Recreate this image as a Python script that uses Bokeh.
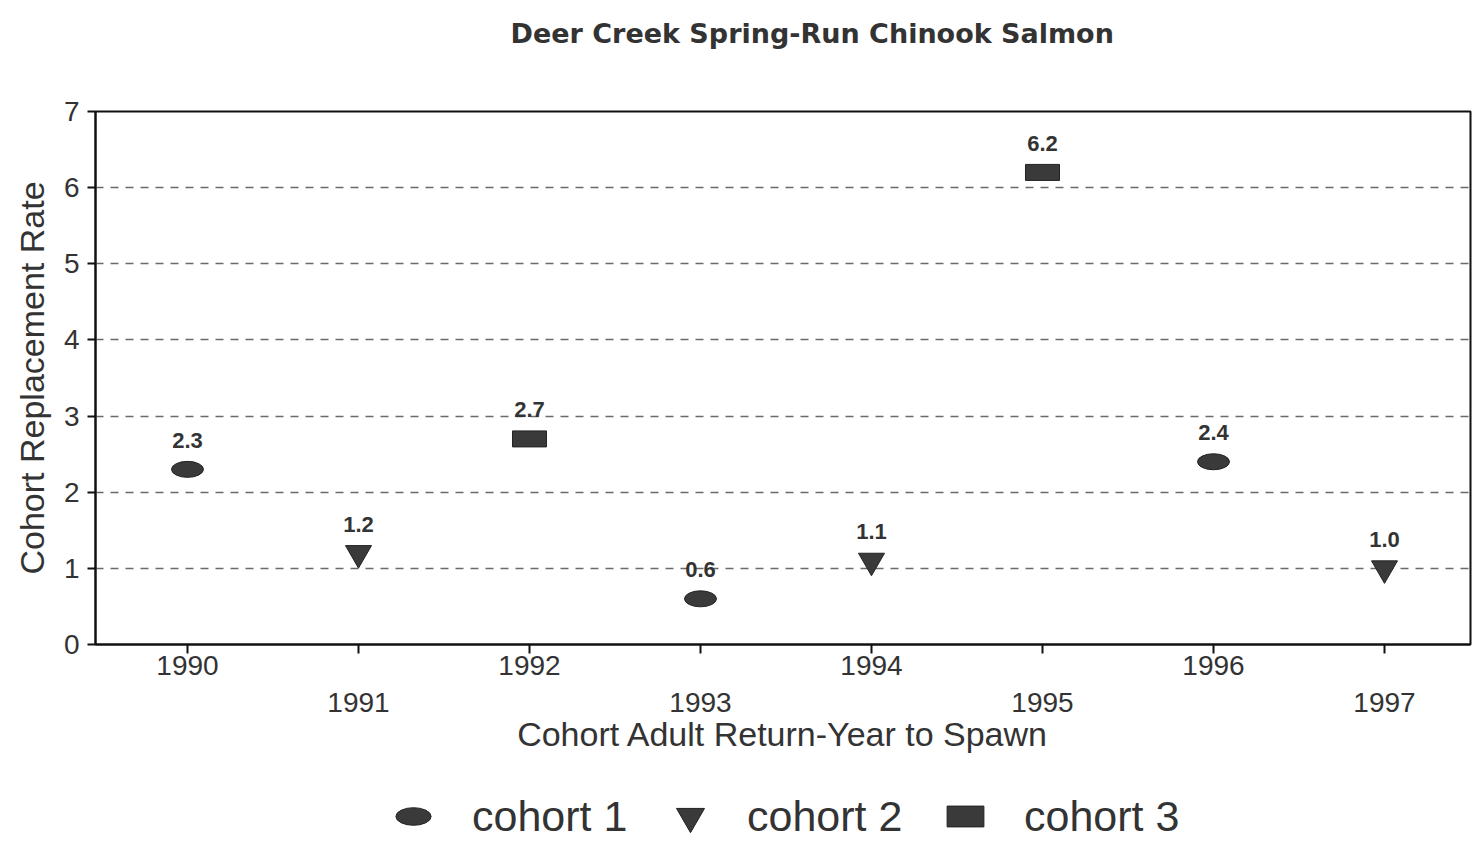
from bokeh.plotting import figure
from bokeh.layouts import column
from bokeh.models import (ColumnDataSource, FixedTicker, LinearAxis, Legend, LegendItem,
                          Range1d, Title, Grid)
from bokeh.core.properties import value
from bokeh.embed import file_html
from bokeh.resources import INLINE

# ---- data ----
years = [1990, 1991, 1992, 1993, 1994, 1995, 1996, 1997]
rates = [2.3, 1.2, 2.7, 0.6, 1.1, 6.2, 2.4, 1.0]
cohorts = ["cohort 1", "cohort 2", "cohort 3", "cohort 1", "cohort 2", "cohort 3", "cohort 1", "cohort 2"]
cohort_names = ["cohort 1", "cohort 2", "cohort 3"]
y_ticks = [0, 1, 2, 3, 4, 5, 6, 7]
even_years = [1990, 1992, 1994, 1996]
odd_years = [1991, 1993, 1995, 1997]

FONT = "Liberation Sans"
INK = "#3a3a3a"
TXT = "#333333"

p = figure(frame_width=1375, frame_height=533, output_backend="svg", toolbar_location=None,
           x_range=Range1d(1989.462, 1997.503), y_range=Range1d(0, 7),
           x_axis_type=None, y_axis_type=None,
           min_border_left=95, min_border_right=2, min_border_top=110, min_border_bottom=118)
p.background_fill_color = "white"
p.border_fill_color = "white"
p.outline_line_color = "#111111"
p.outline_line_width = 2

# spacer title (nearest the frame) pushes the real title up
p.add_layout(Title(text=" ", text_font_size="2px", standoff=44), "above")
p.add_layout(Title(text="Deer Creek Spring-Run Chinook Salmon", align="left",
                   text_font="DejaVu Sans", text_font_size="27px", text_font_style="bold",
                   text_color=TXT, standoff=30, offset=415), "above")

# y axis
yaxis = LinearAxis(ticker=FixedTicker(ticks=y_ticks), axis_label="Cohort Replacement Rate")
yaxis.axis_line_color = "#111111"
yaxis.axis_line_width = 2
yaxis.major_tick_line_color = "#111111"
yaxis.major_tick_line_width = 2
yaxis.major_tick_out = 8
yaxis.major_tick_in = 0
yaxis.minor_tick_line_color = None
yaxis.major_label_text_font = FONT
yaxis.major_label_text_font_size = "28px"
yaxis.major_label_text_color = TXT
yaxis.major_label_standoff = 8
yaxis.axis_label_text_font = FONT
yaxis.axis_label_text_font_size = "34px"
yaxis.axis_label_text_font_style = "normal"
yaxis.axis_label_text_color = TXT
yaxis.axis_label_standoff = 10
p.add_layout(yaxis, "left")

# x axis: even-year labels
xaxis1 = LinearAxis(ticker=FixedTicker(ticks=years))
xaxis1.major_label_overrides = {y: (str(y) if y in even_years else " ") for y in years}
xaxis1.axis_line_color = "#111111"
xaxis1.axis_line_width = 2
xaxis1.major_tick_line_color = "#111111"
xaxis1.major_tick_line_width = 2
xaxis1.major_tick_out = 9
xaxis1.major_tick_in = 0
xaxis1.minor_tick_line_color = None
xaxis1.major_label_text_font = FONT
xaxis1.major_label_text_font_size = "28px"
xaxis1.major_label_text_color = TXT
xaxis1.major_label_standoff = -4
p.add_layout(xaxis1, "below")

# x axis: odd-year labels (second row)
xaxis2 = LinearAxis(ticker=FixedTicker(ticks=odd_years),
                    axis_label="Cohort Adult Return-Year to Spawn")
xaxis2.axis_line_color = None
xaxis2.major_tick_line_color = None
xaxis2.minor_tick_line_color = None
xaxis2.major_label_text_font = FONT
xaxis2.major_label_text_font_size = "28px"
xaxis2.major_label_text_color = TXT
xaxis2.major_label_standoff = 3
xaxis2.axis_label_text_font = FONT
xaxis2.axis_label_text_font_size = "34px"
xaxis2.axis_label_text_font_style = "normal"
xaxis2.axis_label_text_color = TXT
xaxis2.axis_label_standoff = 0
p.add_layout(xaxis2, "below")

# dashed horizontal grid
grid = Grid(dimension=1, ticker=FixedTicker(ticks=y_ticks[1:-1]),
            grid_line_color="#6a6a6a", grid_line_dash="8 7", grid_line_width=1.4)
p.add_layout(grid)


def subset(name):
    xs = [x for x, c in zip(years, cohorts) if c == name]
    ys = [v for v, c in zip(rates, cohorts) if c == name]
    return ColumnDataSource(dict(x=xs, y=ys))


def draw_markers(fig):
    a = fig.ellipse(x="x", y="y", width=32, height=16, width_units="screen", height_units="screen",
                    source=subset(cohort_names[0]), fill_color=INK, line_color="#222222", line_width=1)
    b = fig.scatter(x="x", y="y", marker="inverted_triangle", size=26,
                    source=subset(cohort_names[1]), fill_color=INK, line_color="#222222", line_width=1)
    c = fig.rect(x="x", y="y", width=34, height=16, width_units="screen", height_units="screen",
                 source=subset(cohort_names[2]), fill_color=INK, line_color="#222222", line_width=1)
    return a, b, c


draw_markers(p)

labels = ColumnDataSource(dict(x=years, y=rates, t=["%.1f" % v for v in rates]))
p.text(x="x", y="y", text="t", source=labels, y_offset=-29,
       text_align="center", text_baseline="middle",
       text_font=value(FONT), text_font_size="22px", text_font_style="bold", text_color=TXT)

# ---- legend strip below the chart ----
q = figure(width=1472, height=80, output_backend="svg", toolbar_location=None,
           x_range=Range1d(0, 1), y_range=Range1d(0, 1),
           x_axis_type=None, y_axis_type=None, min_border=0)
q.outline_line_color = None
q.background_fill_color = "white"
q.border_fill_color = "white"
q.xgrid.grid_line_color = None
q.ygrid.grid_line_color = None
l1, l2, l3 = draw_markers(q)  # data lies outside this strip's ranges; used as legend keys

legend_specs = [
    (l1, cohort_names[0], 296, 44, 44, 37),
    (l2, cohort_names[1], 560, 70, 70, 22),
    (l3, cohort_names[2], 847, 46, 26, 36),
]
for rend, name, lx, gw, gh, stand in legend_specs:
    lg = Legend(items=[LegendItem(label=name, renderers=[rend])],
                location=(lx, -9), orientation="horizontal",
                label_text_font=FONT, label_text_font_size="43px",
                label_text_color=TXT, label_height=70,
                label_standoff=stand, glyph_width=gw, glyph_height=gh,
                border_line_color=None, background_fill_alpha=0, margin=0, padding=0)
    q.add_layout(lg, "center")

layout = column(p, q, spacing=0)
open("out.html", "w").write(file_html(layout, INLINE))
